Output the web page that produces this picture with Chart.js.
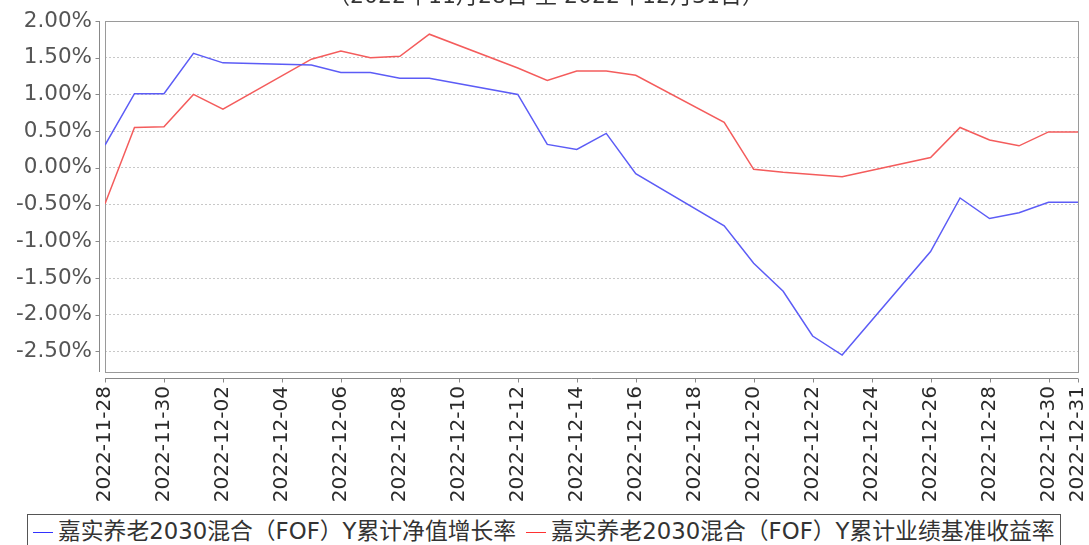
<!DOCTYPE html>
<html>
<head>
<meta charset="utf-8">
<script src="https://cdn.jsdelivr.net/npm/chart.js@4.4.1/dist/chart.umd.min.js"></script>
<style>
    html, body { margin: 0; padding: 0; background: #fff; overflow: hidden; }
    #wrap { position: relative; width: 1089px; height: 545px; }
    #legend {
        position: absolute; left: 27px; top: 514px; width: 1034px; height: 40px;
        border: 1px solid #555; box-sizing: border-box; background: #fff;
        font-family: "DejaVu Sans", "Noto Sans CJK SC", sans-serif;
        font-size: 22.8px; color: #333; white-space: nowrap;
    }
    .legend-item { position: absolute; top: 2px; line-height: 28px; }
    .swatch { display: inline-block; width: 20px; height: 0; border-top: 1.5px solid; vertical-align: middle; margin-right: 5px; }
</style>
</head>
<body>
<div id="wrap">
    <canvas id="returnChart" width="1089" height="545"></canvas>
    <div id="legend"></div>
</div>
<script>
const titleText = "（2022年11月28日 至 2022年12月31日）";

const seriesNames = [
    "嘉实养老2030混合（FOF）Y累计净值增长率",
    "嘉实养老2030混合（FOF）Y累计业绩基准收益率"
];

const dates = [
    "2022-11-28", "2022-11-29", "2022-11-30", "2022-12-01", "2022-12-02",
    "2022-12-05", "2022-12-06", "2022-12-07", "2022-12-08", "2022-12-09",
    "2022-12-12", "2022-12-13", "2022-12-14", "2022-12-15", "2022-12-16",
    "2022-12-19", "2022-12-20", "2022-12-21", "2022-12-22", "2022-12-23",
    "2022-12-26", "2022-12-27", "2022-12-28", "2022-12-29", "2022-12-30",
    "2022-12-31"
];

// 累计净值增长率 (%)
const navGrowth = [
    0.31, 1.01, 1.01, 1.56, 1.43,
    1.40, 1.30, 1.30, 1.22, 1.22,
    1.00, 0.32, 0.25, 0.47, -0.08,
    -0.79, -1.30, -1.68, -2.29, -2.55,
    -1.14, -0.41, -0.69, -0.61, -0.47,
    -0.47
];

// 累计业绩基准收益率 (%)
const benchmarkReturn = [
    -0.49, 0.55, 0.56, 1.00, 0.80,
    1.48, 1.59, 1.50, 1.52, 1.82,
    1.36, 1.19, 1.32, 1.32, 1.26,
    0.62, -0.02, -0.06, -0.09, -0.12,
    0.14, 0.55, 0.38, 0.30, 0.49,
    0.49
];

const xTickDates = [
    "2022-11-28", "2022-11-30", "2022-12-02", "2022-12-04", "2022-12-06",
    "2022-12-08", "2022-12-10", "2022-12-12", "2022-12-14", "2022-12-16",
    "2022-12-18", "2022-12-20", "2022-12-22", "2022-12-24", "2022-12-26",
    "2022-12-28", "2022-12-30", "2022-12-31"
];

const yTicks = [-2.5, -2.0, -1.5, -1.0, -0.5, 0, 0.5, 1.0, 1.5, 2.0];

const lineColors = ["#5c5cf6", "#f45c5c"];
const swatchColors = ["#3232ff", "#ff3232"];


function dayOf(dateString) {
    return (Date.parse(dateString) - Date.parse(dates[0])) / 86400000;
}

function toPoints(values) {
    return dates.map(function (d, i) {
        return { x: dayOf(d), y: values[i] };
    });
}


// plot box and offset axis lines, JFreeChart style
const axisFramePlugin = {
    id: "axisFrame",
    beforeDatasetsDraw: function (chart) {
        const ctx = chart.ctx;
        const area = chart.chartArea;
        const xScale = chart.scales.x;
        const yScale = chart.scales.y;

        ctx.save();
        ctx.lineWidth = 1;
        ctx.strokeStyle = "#9a9a9a";
        ctx.strokeRect(Math.round(area.left) + 0.5, Math.round(area.top) + 0.5,
            Math.round(area.right - area.left), Math.round(area.bottom - area.top));

        // y axis line with ticks
        const yx = Math.round(area.left) - 5.5;
        ctx.strokeStyle = "#888";
        ctx.beginPath();
        ctx.moveTo(yx, area.top);
        ctx.lineTo(yx, area.bottom);
        yTicks.forEach(function (v) {
            const py = Math.round(yScale.getPixelForValue(v)) + 0.5;
            ctx.moveTo(yx - 4, py);
            ctx.lineTo(yx, py);
        });
        ctx.stroke();

        // x axis line with ticks
        const xy = Math.round(area.bottom) + 6.5;
        ctx.beginPath();
        ctx.moveTo(area.left, xy);
        ctx.lineTo(area.right, xy);
        xTickDates.forEach(function (d) {
            const px = Math.round(xScale.getPixelForValue(dayOf(d))) + 0.5;
            ctx.moveTo(px, xy);
            ctx.lineTo(px, xy + 4);
        });
        ctx.stroke();
        ctx.restore();
    },
    afterDraw: function (chart) {
        const ctx = chart.ctx;
        ctx.save();
        ctx.font = '22px "DejaVu Sans", "Noto Sans CJK SC", sans-serif';
        ctx.fillStyle = "#333";
        ctx.textAlign = "center";
        ctx.textBaseline = "alphabetic";
        ctx.fillText(titleText, 546, 3);
        ctx.restore();
    }
};


function initializeReturnChart() {
    const canvas = document.getElementById("returnChart");

    new Chart(canvas, {
        type: "line",
        data: {
            datasets: [
                {
                    label: seriesNames[0],
                    data: toPoints(navGrowth),
                    borderColor: lineColors[0],
                    borderWidth: 1.5,
                    pointRadius: 0,
                    tension: 0
                },
                {
                    label: seriesNames[1],
                    data: toPoints(benchmarkReturn),
                    borderColor: lineColors[1],
                    borderWidth: 1.5,
                    pointRadius: 0,
                    tension: 0
                }
            ]
        },
        options: {
            responsive: false,
            animation: false,
            devicePixelRatio: 1,
            layout: {
                padding: { left: 0, right: 11, top: 21, bottom: 0 }
            },
            plugins: {
                legend: { display: false },
                tooltip: { enabled: false }
            },
            scales: {
                x: {
                    type: "linear",
                    min: 0,
                    max: dayOf(dates[dates.length - 1]),
                    grid: { display: false, drawTicks: false },
                    border: { display: false },
                    afterBuildTicks: function (scale) {
                        scale.ticks = xTickDates.map(function (d) {
                            return { value: dayOf(d) };
                        });
                    },
                    afterFit: function (scale) {
                        scale.height = 173;
                        scale.paddingLeft = 0;
                        scale.paddingRight = 0;
                    },
                    ticks: {
                        autoSkip: false,
                        minRotation: 90,
                        maxRotation: 90,
                        padding: 14,
                        color: "#2a2a2a",
                        font: { family: '"DejaVu Sans", sans-serif', size: 20 },
                        callback: function (value) {
                            const match = xTickDates.find(function (d) {
                                return dayOf(d) === value;
                            });
                            return match || "";
                        }
                    }
                },
                y: {
                    min: -2.78,
                    max: 2.0,
                    grid: { color: "#c8c8c8", lineWidth: 1, drawTicks: false },
                    border: { display: false, dash: [2, 2] },
                    afterBuildTicks: function (scale) {
                        scale.ticks = yTicks.map(function (v) {
                            return { value: v };
                        });
                    },
                    afterFit: function (scale) {
                        scale.width = 105;
                        scale.paddingTop = 0;
                        scale.paddingBottom = 0;
                    },
                    ticks: {
                        padding: 13,
                        color: "#555",
                        font: { family: '"DejaVu Sans", sans-serif', size: 21.5 },
                        callback: function (value) {
                            return Number(value).toFixed(2) + "%";
                        }
                    }
                }
            }
        },
        plugins: [axisFramePlugin]
    });
}


function buildLegend() {
    const legend = document.getElementById("legend");
    const offsets = [5, 498];

    seriesNames.forEach(function (name, i) {
        const item = document.createElement("span");
        item.className = "legend-item";
        item.style.left = offsets[i] + "px";

        const swatch = document.createElement("span");
        swatch.className = "swatch";
        swatch.style.borderTopColor = swatchColors[i];

        item.appendChild(swatch);
        item.appendChild(document.createTextNode(name));
        legend.appendChild(item);
    });
}


initializeReturnChart();
buildLegend();
</script>
</body>
</html>
